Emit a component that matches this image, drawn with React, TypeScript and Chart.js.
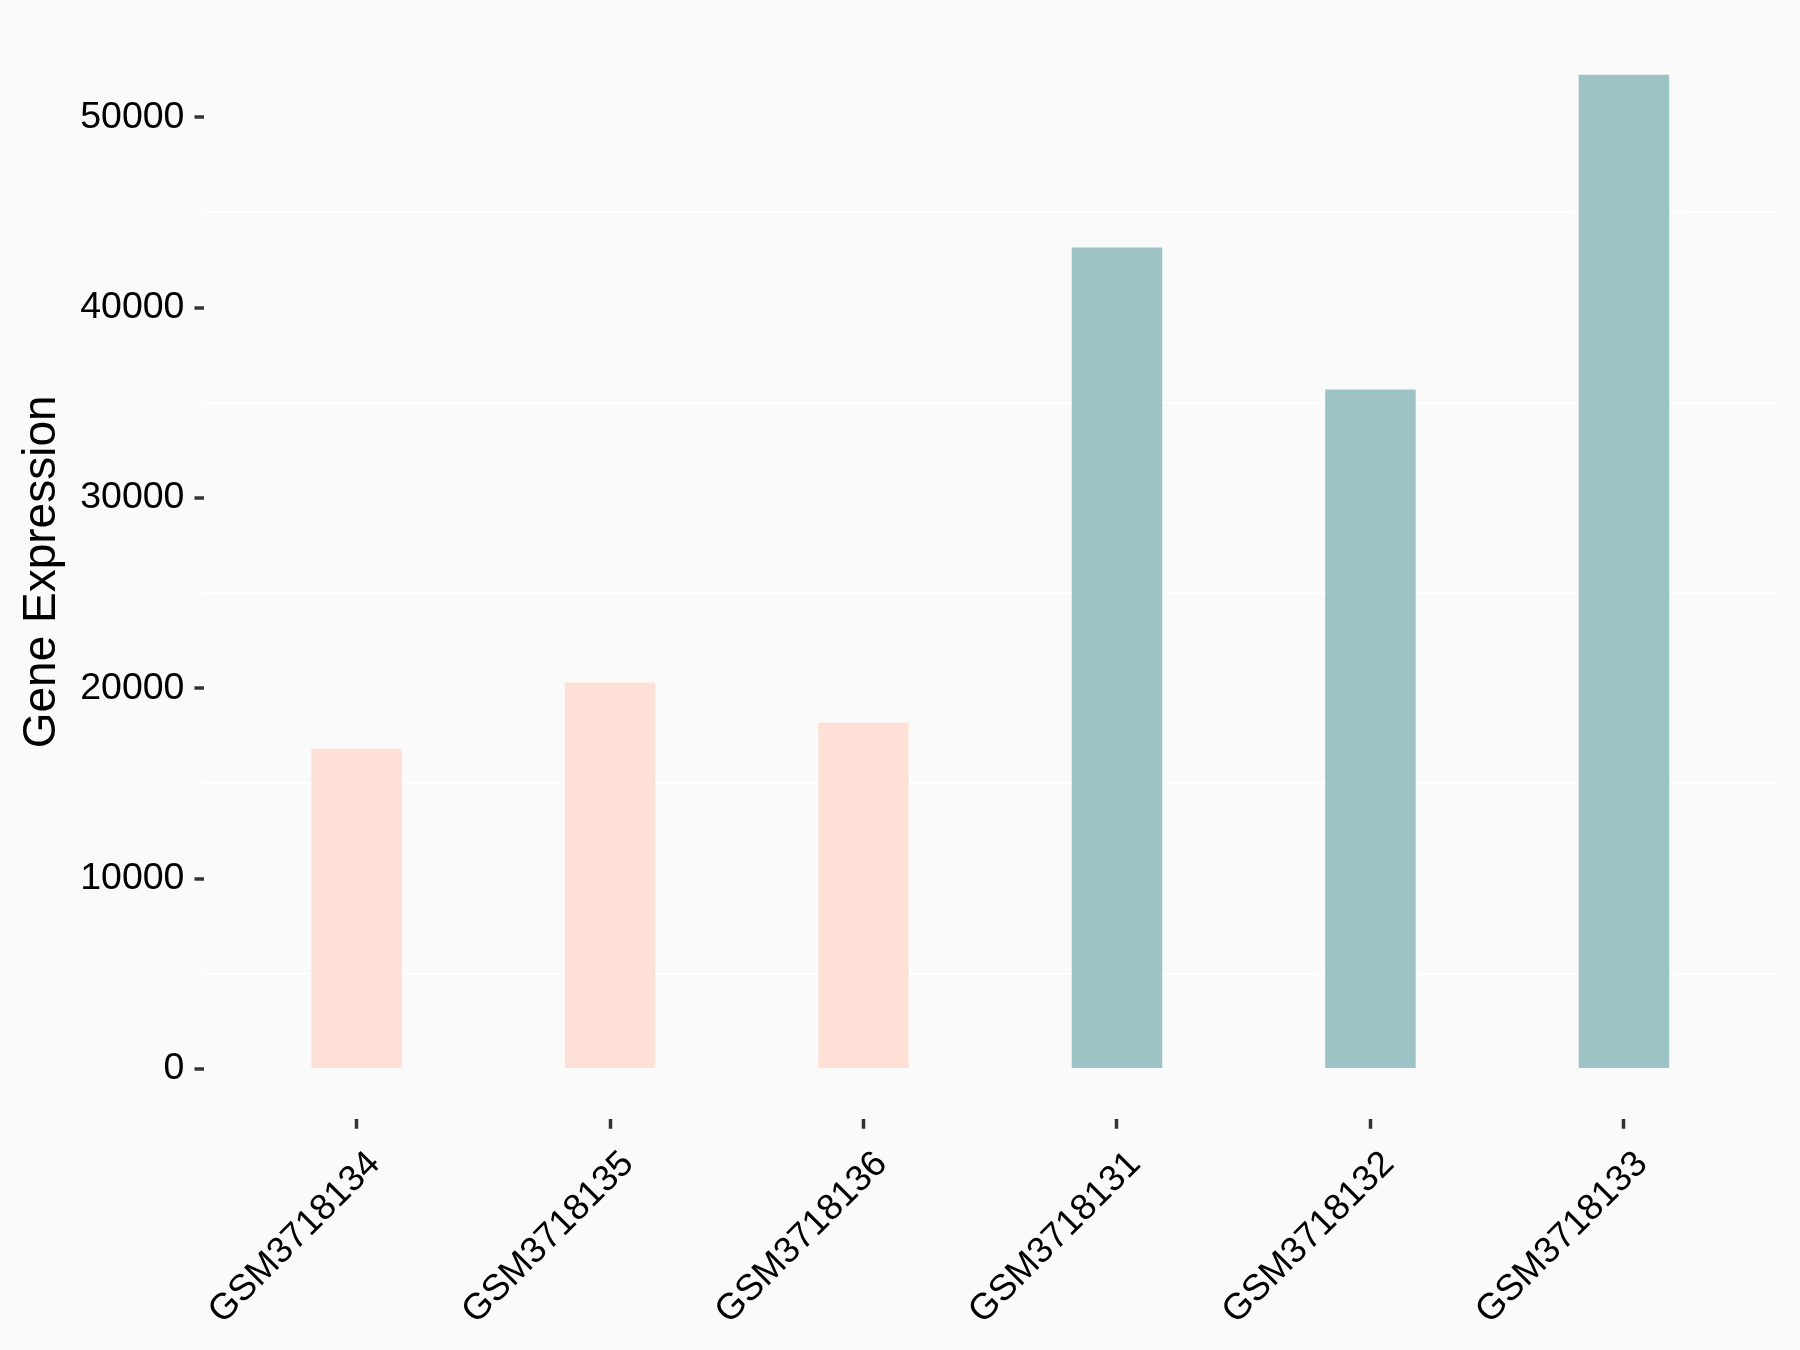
import React, { useEffect, useRef } from "react";
import { Chart, registerables } from "chart.js";

Chart.register(...registerables);

const categories = ["GSM3718134", "GSM3718135", "GSM3718136", "GSM3718131", "GSM3718132", "GSM3718133"];
const expression = [16830, 20300, 18190, 43160, 35700, 52230];
const barColors = ["#FFE0D6", "#FFE0D6", "#FFE0D6", "#9DC3C7", "#9DC3C7", "#9DC3C7"];
const yTicks = [0, 5000, 10000, 15000, 20000, 25000, 30000, 35000, 40000, 45000, 50000];
const yAxisTitle = "Gene Expression";

const FONT = "'Liberation Sans', Arial, Helvetica, sans-serif";

export default function App() {
  const ref = useRef<HTMLCanvasElement | null>(null);

  useEffect(() => {
    document.body.style.margin = "0";
    document.body.style.background = "#FAFAFA";
    const canvas = ref.current;
    if (!canvas) return;
    const chart = new Chart(canvas, {
      type: "bar",
      data: {
        datasets: [
          {
            data: expression.map((v, i) => ({ x: i, y: v })),
            backgroundColor: barColors,
            borderWidth: 0,
            barPercentage: 0.357,
            categoryPercentage: 1,
          },
        ],
      },
      options: {
        animation: false,
        responsive: false,
        maintainAspectRatio: false,
        layout: { padding: { left: 15, right: 24, top: 22, bottom: 3 } },
        plugins: { legend: { display: false }, tooltip: { enabled: false } },
        scales: {
          x: {
            type: "linear",
            min: -0.6,
            max: 5.6,
            offset: false,
            afterBuildTicks: (scale: any) => {
              scale.ticks = categories.map((_, i) => ({ value: i }));
            },
            border: { display: false },
            grid: {
              display: true,
              offset: false,
              drawOnChartArea: false,
              drawTicks: true,
              tickLength: 10,
              tickWidth: 3.5,
              tickColor: "#333333",
            },
            ticks: {
              autoSkip: false,
              maxRotation: 45,
              minRotation: 45,
              padding: 14,
              labelOffset: 18,
              color: "#000000",
              font: { family: FONT, size: 36.5 },
              callback: (v: any) => categories[Math.round(Number(v))] ?? "",
            },
          },
          y: {
            type: "linear",
            min: -2611,
            max: 54841,
            afterBuildTicks: (scale: any) => {
              scale.ticks = yTicks.map((v) => ({ value: v }));
            },
            border: { display: false },
            grid: {
              drawTicks: true,
              tickLength: 10,
              tickWidth: 3.5,
              lineWidth: 2,
              color: (ctx: any) => (ctx.tick && ctx.tick.value % 10000 !== 0 ? "#FFFFFF" : "rgba(0,0,0,0)"),
              tickColor: (ctx: any) => (ctx.tick && ctx.tick.value % 10000 === 0 ? "#333333" : "rgba(0,0,0,0)"),
            },
            ticks: {
              autoSkip: false,
              padding: 10,
              color: "#000000",
              font: { family: FONT, size: 37.5, lineHeight: 0.8 },
              callback: (v: any) => (Number(v) % 10000 === 0 ? String(v) : ""),
            },
            title: {
              display: true,
              text: yAxisTitle,
              color: "#000000",
              font: { family: FONT, size: 46 },
              padding: { top: 0, bottom: 0 },
            },
          },
        },
      },
    });
    return () => chart.destroy();
  }, []);

  return (
    <div style={{ width: 1800, height: 1350, background: "#FAFAFA" }}>
      <canvas ref={ref} width={1800} height={1350} style={{ display: "block", width: 1800, height: 1350 }} />
    </div>
  );
}
